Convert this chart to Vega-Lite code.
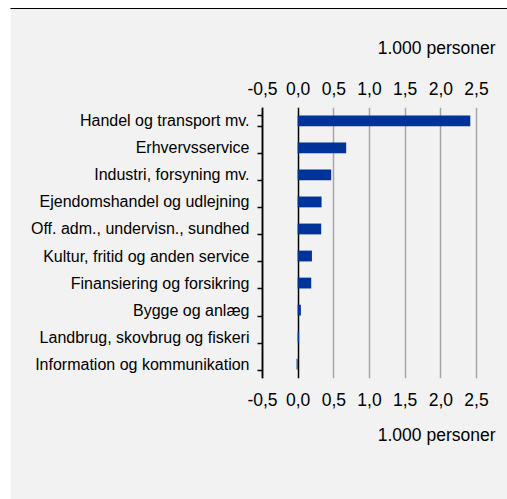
{
  "$schema": "https://vega.github.io/schema/vega-lite/v6.json",
  "width": 497,
  "height": 491,
  "autosize": {"type": "none"},
  "padding": {"left": 10, "top": 8, "right": 0, "bottom": 0},
  "background": "white",
  "config": {
    "view": {"fill": "#f2f2f2", "stroke": "black", "strokeWidth": 1, "strokeDash": [497, 3000]},
    "font": "Liberation Sans",
    "axis": {
      "labelFont": "Liberation Sans",
      "titleFont": "Liberation Sans",
      "labelColor": "black",
      "titleColor": "black",
      "titleFontWeight": "normal"
    }
  },
  "data": {
    "values": [
      {"branche": "Handel og transport mv.", "value": 2.42},
      {"branche": "Erhvervsservice", "value": 0.68},
      {"branche": "Industri, forsyning mv.", "value": 0.47},
      {"branche": "Ejendomshandel og udlejning", "value": 0.335},
      {"branche": "Off. adm., undervisn., sundhed", "value": 0.33},
      {"branche": "Kultur, fritid og anden service", "value": 0.2},
      {"branche": "Finansiering og forsikring", "value": 0.19},
      {"branche": "Bygge og anlæg", "value": 0.045},
      {"branche": "Landbrug, skovbrug og fiskeri", "value": 0.02},
      {"branche": "Information og kommunikation", "value": -0.015}
    ]
  },
  "encoding": {
    "y": {
      "field": "branche",
      "type": "nominal",
      "sort": null,
      "scale": {"type": "band", "range": [99.3, 369.7], "paddingInner": 0.6, "paddingOuter": 0.3},
      "axis": {
        "orient": "left",
        "offset": -252,
        "title": null,
        "tickBand": "extent",
        "domainColor": "black",
        "domainWidth": 1.5,
        "tickColor": "black",
        "tickWidth": 1.5,
        "tickSize": 5,
        "labelFontSize": 16,
        "labelPadding": 8,
        "labelLimit": 300,
        "labelOverlap": false,
        "grid": false
      }
    }
  },
  "resolve": {"axis": {"x": "independent"}},
  "layer": [
    {
      "mark": {"type": "bar", "color": "#003399"},
      "encoding": {
        "x": {
          "field": "value",
          "type": "quantitative",
          "scale": {"domain": [-0.5, 2.5], "range": [252, 466], "nice": false, "zero": false},
          "axis": {
            "orient": "top",
            "offset": -99.3,
            "values": [-0.5, 0, 0.5, 1, 1.5, 2, 2.5],
            "labelExpr": "(datum.value < 0 ? '-' : '') + replace(format(abs(datum.value), '.1f'), '.', ',')",
            "labelFontSize": 17.5,
            "labelPadding": 9,
            "labelOverlap": false,
            "labelFlush": false,
            "domain": false,
            "ticks": false,
            "grid": true,
            "gridColor": {"condition": {"test": "datum.value <= 0", "value": "black"}, "value": "#a6a6a6"},
            "gridWidth": 1.5,
            "title": "1.000 personer",
            "titleFontSize": 17.5,
            "titleX": 485,
            "titleY": -54,
            "titleAlign": "right",
            "titleBaseline": "alphabetic",
            "titleAnchor": "end"
          }
        }
      }
    },
    {
      "mark": {"type": "bar", "color": "#003399", "opacity": 0},
      "encoding": {
        "x": {
          "field": "value",
          "type": "quantitative",
          "scale": {"domain": [-0.5, 2.5], "range": [252, 466], "nice": false, "zero": false},
          "axis": {
            "orient": "bottom",
            "offset": -121.3,
            "values": [-0.5, 0, 0.5, 1, 1.5, 2, 2.5],
            "labelExpr": "(datum.value < 0 ? '-' : '') + replace(format(abs(datum.value), '.1f'), '.', ',')",
            "labelFontSize": 17.5,
            "labelPadding": 14,
            "labelOverlap": false,
            "labelFlush": false,
            "domain": false,
            "ticks": false,
            "grid": false,
            "title": "1.000 personer",
            "titleFontSize": 17.5,
            "titleX": 485,
            "titleY": 63,
            "titleAlign": "right",
            "titleBaseline": "alphabetic",
            "titleAnchor": "end"
          }
        }
      }
    }
  ]
}
